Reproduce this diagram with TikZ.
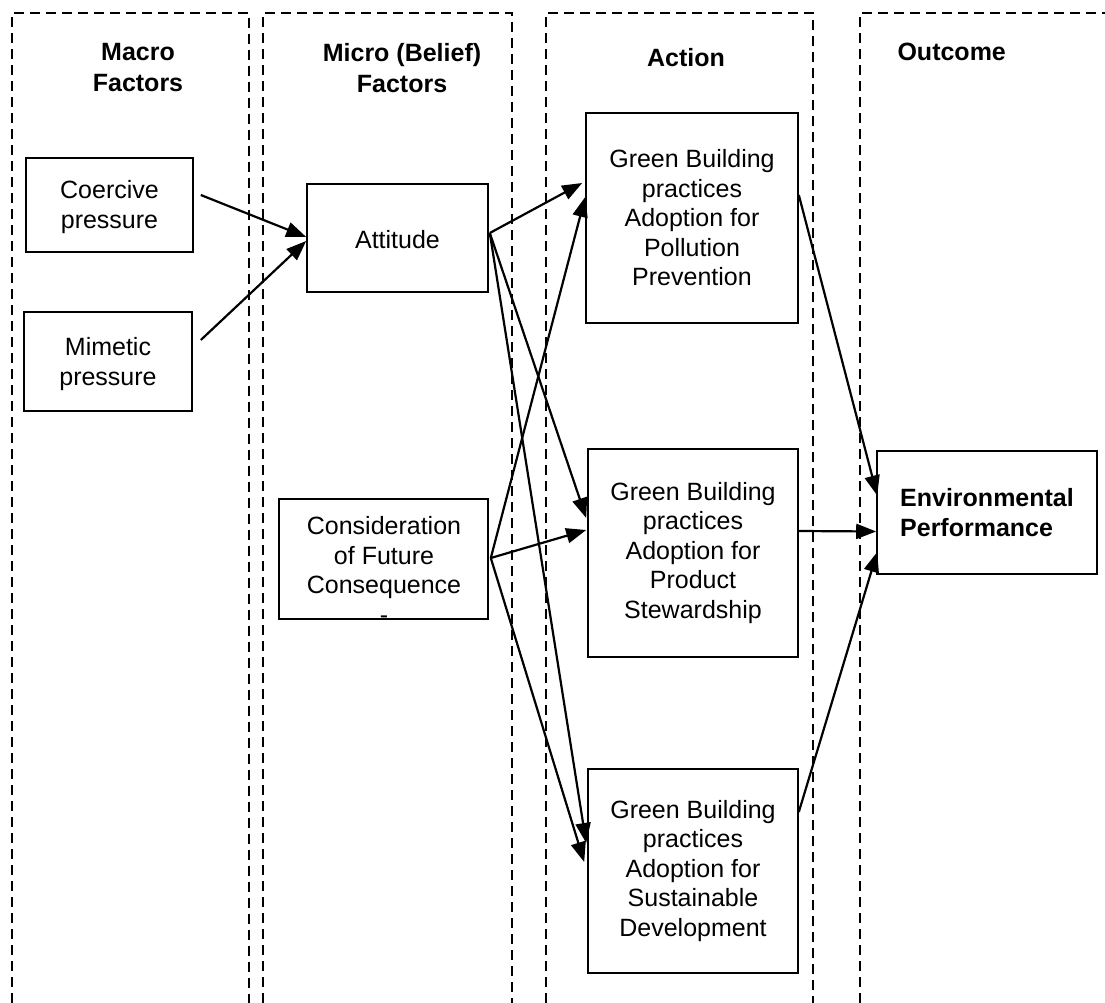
\documentclass[tikz,border=0pt]{standalone}
\usepackage{fontspec}
\setmainfont{Liberation Sans}
\usetikzlibrary{arrows.meta}
\begin{document}
\begin{tikzpicture}[x=1pt,y=-1pt,
  every node/.style={font=\fontsize{25}{29.5}\selectfont},
  box/.style={draw, line width=1.6pt, inner sep=0pt, align=center},
  col/.style={line width=1.6pt, dash pattern=on 10pt off 6pt},
  head/.style={font=\fontsize{25}{31}\selectfont\bfseries, align=center},
  arr/.style={line width=2.2pt, -{Triangle[length=20pt,width=15pt]}}]
\useasboundingbox (0,0) rectangle (1105,1003);
% columns
\draw[col] (12,1003) -- (12,13) -- (249,13) -- (249,1003);
\draw[col] (263,1003) -- (263,13) -- (512,13) -- (512,1003);
\draw[col] (546,1003) -- (546,13) -- (813,13) -- (813,1003);
\draw[col] (860,1003) -- (860,13) -- (1105,13);
% headers
\node[head] (h1) at (138,68) {Macro\\Factors};
\node[head] (h2) at (402,68) {Micro (Belief)\\Factors};
\node[head] (h3) at (686,58) {Action};
\node[head, anchor=west] (h4) at (894,52) {Outcome};
% boxes
\node[box, minimum width=167, minimum height=94] (coer) at (109.5,205) {};
\node[align=center, inner sep=0pt] (coertext) at (109.5,207) {Coercive\\pressure};
\node[box, minimum width=168, minimum height=99] (mim) at (108,361.5) {};
\node[align=center, inner sep=0pt] (mimtext) at (108,364) {Mimetic\\pressure};
\node[box, minimum width=181, minimum height=108] (att) at (397.5,238) {};
\node[inner sep=0pt] (atttext) at (397.5,240) {Attitude};
\node[box, minimum width=209, minimum height=120] (cfc) at (383.5,559) {};
\node[align=center, inner sep=0pt] (cfctext) at (384,570) {Consideration\\of Future\\Consequence\\-};
\node[box, minimum width=212, minimum height=210] (gb1) at (692,218) {Green Building\\practices\\Adoption for\\Pollution\\Prevention};
\node[box, minimum width=210, minimum height=208] (gb2) at (693,553) {Green Building\\practices\\Adoption for\\Product\\Stewardship};
\node[box, minimum width=210, minimum height=204] (gb3) at (693,871) {Green Building\\practices\\Adoption for\\Sustainable\\Development};
\node[box, minimum width=220, minimum height=123, font=\fontsize{25}{30}\selectfont\bfseries, align=left] (ep) at (987,512.5) {Environmental\\Performance};
% arrows
\draw[arr] ([xshift=7,yshift=10]coer.east) -- ([yshift=1]att.west);
\draw[arr] ([xshift=8,yshift=21.5]mim.east) -- ([yshift=-3]att.west);
\draw[arr] ([xshift=1,yshift=5]att.east) -- ([xshift=-3,yshift=35]gb1.west);
\draw[arr] ([xshift=1,yshift=5]att.east) -- ([xshift=-1,yshift=35]gb2.west);
\draw[arr] ([xshift=1,yshift=5]att.east) -- ([xshift=-1,yshift=28]gb3.west);
\draw[arr] ([xshift=2,yshift=1]cfc.east) -- ([yshift=21]gb1.west);
\draw[arr] ([xshift=2,yshift=1]cfc.east) -- ([xshift=-1,yshift=23]gb2.west);
\draw[arr] ([xshift=2,yshift=1]cfc.east) -- ([xshift=-3,yshift=9]gb3.west);
\draw[arr] ([yshift=23]gb1.east) -- ([xshift=1,yshift=17]ep.west);
\draw[arr] ([yshift=22]gb2.east) -- ([yshift=-19]ep.west);
\draw[arr] ([yshift=59]gb3.east) -- ([xshift=1,yshift=-39.5]ep.west);
\end{tikzpicture}
\end{document}
